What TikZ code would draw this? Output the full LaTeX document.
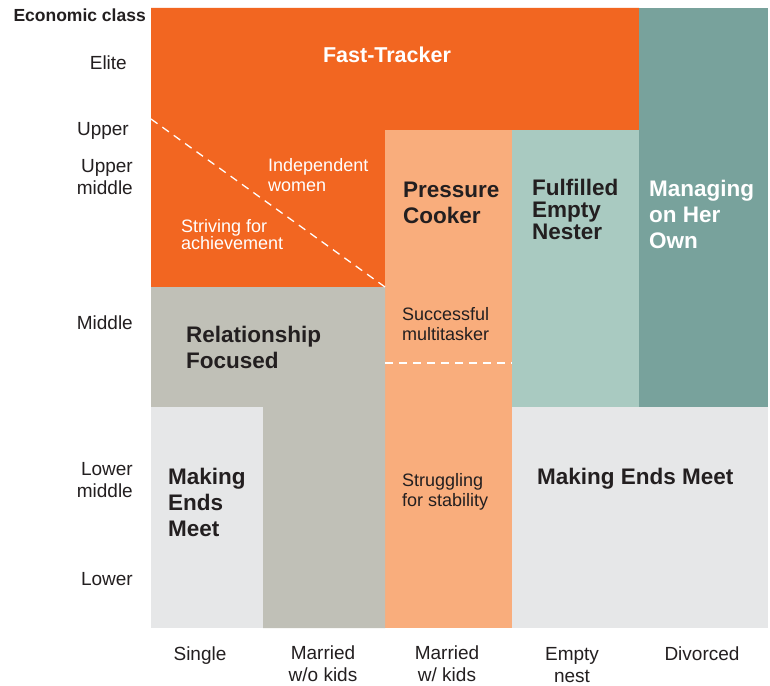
\documentclass[tikz,border=0pt]{standalone}
\usepackage{fontspec}
\setmainfont{Liberation Sans}
\usepackage{tikz}
\definecolor{morange}{rgb}{0.95, 0.40, 0.13}
\definecolor{mpeach}{rgb}{0.976, 0.678, 0.486}
\definecolor{mlteal}{rgb}{0.663, 0.792, 0.757}
\definecolor{mteal}{rgb}{0.471, 0.635, 0.612}
\definecolor{mgray}{rgb}{0.753, 0.753, 0.718}
\definecolor{mlgray}{rgb}{0.902, 0.906, 0.910}
\definecolor{mdark}{rgb}{0.137, 0.122, 0.125}
\tikzset{classlabel/.style = {anchor=base east, align=right, inner sep=0, text=mdark,
                              font=\fontsize{19}{21.5}\selectfont}}
\tikzset{statuslabel/.style = {anchor=base, align=center, inner sep=0, text=mdark,
                               font=\fontsize{19}{21.5}\selectfont}}
\tikzset{grouplabel/.style = {anchor=base west, align=left, inner sep=0, text=mdark,
                              font=\bfseries\fontsize{22.5}{26}\selectfont}}
\tikzset{sublabel/.style = {anchor=base west, align=left, inner sep=0, text=mdark,
                            font=\fontsize{18}{20}\selectfont}}
\tikzset{divider/.style = {white, line width=1.3, dash pattern=on 8pt off 6pt}}

\begin{document}
\begin{tikzpicture}[x=1pt, y=-1pt]
  \useasboundingbox [fill=white] (0, 0) rectangle (770, 685);

  % areas
  \fill [morange] (151, 8) -- (639, 8) -- (639, 130) -- (385, 130) -- (385, 287) -- (151, 287) -- cycle;
  \fill [mteal] (639, 8) rectangle (768, 407);
  \fill [mlteal] (512, 130) rectangle (639, 407);
  \fill [mpeach] (385, 130) rectangle (512, 628);
  \fill [mgray] (151, 287) -- (385, 287) -- (385, 628) -- (263, 628) -- (263, 407) -- (151, 407) -- cycle;
  \fill [mlgray] (151, 407) rectangle (263, 628);
  \fill [mlgray] (512, 407) rectangle (768, 628);

  \draw [divider] (151, 119) -- (385, 287);
  \draw [divider] (385, 363) -- (512, 363);

  % economic class (multi-line nodes sit on their last baseline)
  \node [classlabel, font=\bfseries\fontsize{17.5}{20}\selectfont] (econ) at (146, 22) {Economic class};
  \node [classlabel] (elite) at (127, 70) {Elite};
  \node [classlabel] (upper) at (129, 135) {Upper};
  \node [classlabel] (uppermid) at (133, 194) {Upper\\middle};
  \node [classlabel] (middle) at (133, 329) {Middle};
  \node [classlabel] (lowermid) at (133, 497) {Lower\\middle};
  \node [classlabel] (lower) at (133, 585) {Lower};

  % marital status
  \node [statuslabel] (single) at (200, 660) {Single};
  \node [statuslabel] (marnokids) at (323, 681) {Married\\w/o kids};
  \node [statuslabel] (markids) at (447, 681) {Married\\w/ kids};
  \node [statuslabel] (emptynest) at (572, 682) {Empty\\nest};
  \node [statuslabel] (divorced) at (702, 660) {Divorced};

  % groups
  \node [grouplabel, anchor=base, text=white, font=\bfseries\fontsize{21.5}{26}\selectfont] (fast) at (387, 63) {Fast-Tracker};
  \node [sublabel, text=white] (indep) at (268, 191) {Independent\\women};
  \node [sublabel, text=white, font=\fontsize{18}{17}\selectfont] (striving) at (181, 249) {Striving for\\achievement};
  \node [grouplabel] (pressure) at (403, 223) {Pressure\\Cooker};
  \node [grouplabel, font=\bfseries\fontsize{22.5}{22}\selectfont] (fulfilled) at (532, 239) {Fulfilled\\Empty\\Nester};
  \node [grouplabel, text=white] (managing) at (649, 248) {Managing\\on Her\\Own};
  \node [sublabel] (success) at (402, 340) {Successful\\multitasker};
  \node [grouplabel] (relation) at (186, 368) {Relationship\\Focused};
  \node [grouplabel] (endsleft) at (168, 536) {Making\\Ends\\Meet};
  \node [sublabel, font=\fontsize{18}{19.5}\selectfont] (struggle) at (402, 506) {Struggling\\for stability};
  \node [grouplabel] (endsright) at (537, 484) {Making Ends Meet};
\end{tikzpicture}
\end{document}
